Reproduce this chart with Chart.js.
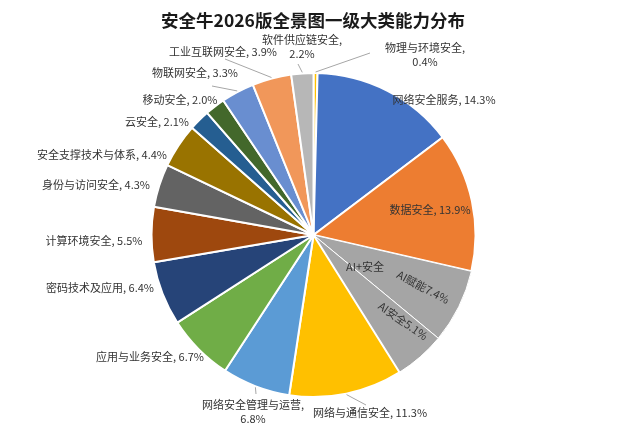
<!DOCTYPE html>
<html>
<head>
<meta charset="utf-8">
<script src="https://cdn.jsdelivr.net/npm/chart.js@4"></script>
<style>
  html, body { margin: 0; padding: 0; background: #fff; }
  #wrap { width: 627px; height: 435px; }
</style>
</head>
<body>
<div id="wrap"><canvas id="myChart" width="627" height="435"></canvas></div>
<script>
// données du graphique
const titre = '安全牛2026版全景图一级大类能力分布';
const categories = ['物理与环境安全', '网络安全服务', '数据安全', 'AI赋能', 'AI安全', '网络与通信安全',
  '网络安全管理与运营', '应用与业务安全', '密码技术及应用', '计算环境安全', '身份与访问安全',
  '安全支撑技术与体系', '云安全', '移动安全', '物联网安全', '工业互联网安全', '软件供应链安全'];
const valeurs = [0.4, 14.3, 13.9, 7.4, 5.1, 11.3, 6.8, 6.7, 6.4, 5.5, 4.3, 4.4, 2.1, 2.0, 3.3, 3.9, 2.2];
const couleurs = ['#FFC000', '#4472C4', '#ED7D31', '#A5A5A5', '#A5A5A5', '#FFC000', '#5B9BD5', '#70AD47',
  '#264478', '#9E480E', '#636363', '#997300', '#255E91', '#43682B', '#698ED0', '#F1975A', '#B7B7B7'];
const groupeAI = 'AI+安全';

// placement des étiquettes (x, y = centre du texte)
const etiquettes = [
  { i: 0, x: 425, y: 48, deux: true, trait: [370, 53] },
  { i: 1, x: 444, y: 100 },
  { i: 2, x: 430, y: 210 },
  { i: 3, x: 423, y: 287, rot: 28, colle: true },
  { i: 4, x: 403, y: 321, rot: 35, colle: true },
  { i: 5, x: 370, y: 413, trait: [366, 405] },
  { i: 6, x: 253, y: 405, deux: true, trait: [256, 394] },
  { i: 7, x: 150, y: 357 },
  { i: 8, x: 100, y: 288 },
  { i: 9, x: 94, y: 241 },
  { i: 10, x: 96, y: 185 },
  { i: 11, x: 102, y: 155 },
  { i: 12, x: 157, y: 122 },
  { i: 13, x: 180, y: 100 },
  { i: 14, x: 195, y: 73, trait: [212, 86] },
  { i: 15, x: 223, y: 52, trait: [225, 59] },
  { i: 16, x: 302, y: 40, deux: true, trait: [298, 64] }
];

const police = '"Noto Sans CJK SC", "Noto Sans", sans-serif';

const pluginTextes = {
  id: 'textes',
  afterDraw(chart) {
    const c = chart.ctx;
    const arcs = chart.getDatasetMeta(0).data;
    c.save();
    // titre
    c.fillStyle = '#1a1a1a';
    c.font = 'bold 17.5px ' + police;
    c.textAlign = 'center';
    c.textBaseline = 'middle';
    c.fillText(titre, 313, 20);

    c.font = '11px ' + police;
    c.fillStyle = '#333';
    etiquettes.forEach(e => {
      const v = valeurs[e.i].toFixed(1) + '%';
      // trait de rappel depuis le bord de la part
      if (e.trait) {
        const a = arcs[e.i];
        const mid = (a.startAngle + a.endAngle) / 2;
        const r = a.outerRadius + 1;
        c.strokeStyle = '#A6A6A6';
        c.lineWidth = 1;
        c.beginPath();
        c.moveTo(a.x + Math.cos(mid) * r, a.y + Math.sin(mid) * r);
        c.lineTo(e.trait[0], e.trait[1]);
        c.stroke();
      }
      c.save();
      c.translate(e.x, e.y);
      if (e.rot) c.rotate(e.rot * Math.PI / 180);
      if (e.deux) {
        c.fillText(categories[e.i] + ',', 0, 0);
        c.fillText(v, 0, 14);
      } else if (e.colle) {
        c.fillText(categories[e.i] + v, 0, 0);
      } else {
        c.fillText(categories[e.i] + ', ' + v, 0, 0);
      }
      c.restore();
    });
    c.fillText(groupeAI, 365, 267);
    c.restore();
  }
};

new Chart(document.getElementById('myChart'), {
  type: 'pie',
  data: {
    labels: categories,
    datasets: [{
      data: valeurs,
      backgroundColor: couleurs,
      borderColor: '#fff',
      // trait plus fin entre les deux parts AI
      borderWidth: valeurs.map((v, i) => (i === 3 || i === 4) ? 1 : 2)
    }]
  },
  options: {
    responsive: false,
    animation: false,
    layout: { padding: { top: 72, bottom: 37, left: 0, right: 0 } },
    plugins: {
      legend: { display: false },
      tooltip: { enabled: false }
    }
  },
  plugins: [pluginTextes]
});
</script>
</body>
</html>
